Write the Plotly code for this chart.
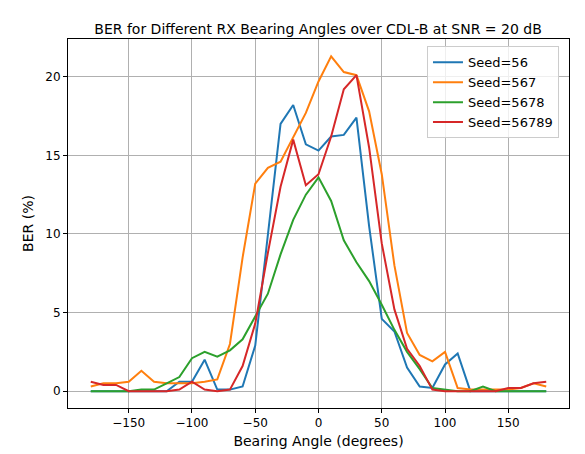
import plotly.graph_objects as go

angles = list(range(-180, 181, 10))
seed56 = [0,0,0,0,0,0,0,0.6,0.6,2.0,0.1,0.1,0.3,2.9,10,17.0,18.2,15.7,15.3,16.2,16.3,17.4,10.5,4.6,3.8,1.5,0.3,0.2,1.7,2.4,0,0,0,0,0,0,0]
seed567 = [0.3,0.5,0.5,0.6,1.3,0.6,0.5,0.5,0.5,0.6,0.75,3.0,8.5,13.2,14.2,14.6,16.2,17.7,19.7,21.3,20.3,20.1,17.8,13.8,8.0,3.7,2.3,1.9,2.5,0.2,0.1,0.1,0.1,0.1,0.2,0.5,0.3]
seed5678 = [0,0,0,0,0.1,0.1,0.5,0.9,2.1,2.5,2.2,2.6,3.3,4.8,6.2,8.7,10.9,12.5,13.6,12.1,9.6,8.2,7.0,5.5,3.9,2.5,1.4,0.2,0.1,0,0,0.3,0,0,0,0,0]
seed56789 = [0.6,0.4,0.4,0,0,0,0,0.1,0.6,0.1,0,0.1,1.6,4.3,8.8,13.0,16.0,13.1,13.8,16.2,19.2,20.1,15.5,9.4,5.2,2.7,1.6,0.1,0,0,0,0,0,0.2,0.2,0.5,0.6]

series = [("Seed=56", seed56, "#1f77b4"), ("Seed=567", seed567, "#ff7f0e"),
          ("Seed=5678", seed5678, "#2ca02c"), ("Seed=56789", seed56789, "#d62728")]

fig = go.Figure()
for name, ys, c in series:
    fig.add_trace(go.Scatter(x=angles, y=ys, mode="lines", name=name, line=dict(color=c, width=2)))

ax = dict(showgrid=True, gridcolor="#b0b0b0", gridwidth=1, showline=True, linecolor="black", mirror=True,
          ticks="outside", ticklen=4, tickcolor="black", zeroline=False, automargin=False,
          tickfont=dict(size=12, color="black"))
fig.update_layout(
    width=585, height=454, plot_bgcolor="white", paper_bgcolor="white",
    font=dict(family="DejaVu Sans", size=12, color="black"),
    margin=dict(l=60, r=24, t=31, b=54),
    title=dict(text="BER for Different RX Bearing Angles over CDL-B at SNR = 20 dB", x=0.53, xanchor="center", y=0.965, font=dict(size=14)),
    xaxis=dict(ax, title=dict(text="Bearing Angle (degrees)", standoff=6), range=[-198, 198], tickvals=[-150,-100,-50,0,50,100,150]),
    yaxis=dict(ax, title=dict(text="BER (%)", standoff=8), range=[-1.07, 22.4], tickvals=[0,5,10,15,20]),
    legend=dict(x=0.98, y=0.98, xanchor="right", yanchor="top", bordercolor="#cccccc", borderwidth=1, bgcolor="rgba(255,255,255,0.8)", font=dict(size=13)),
)
fig.write_html("out.html")
